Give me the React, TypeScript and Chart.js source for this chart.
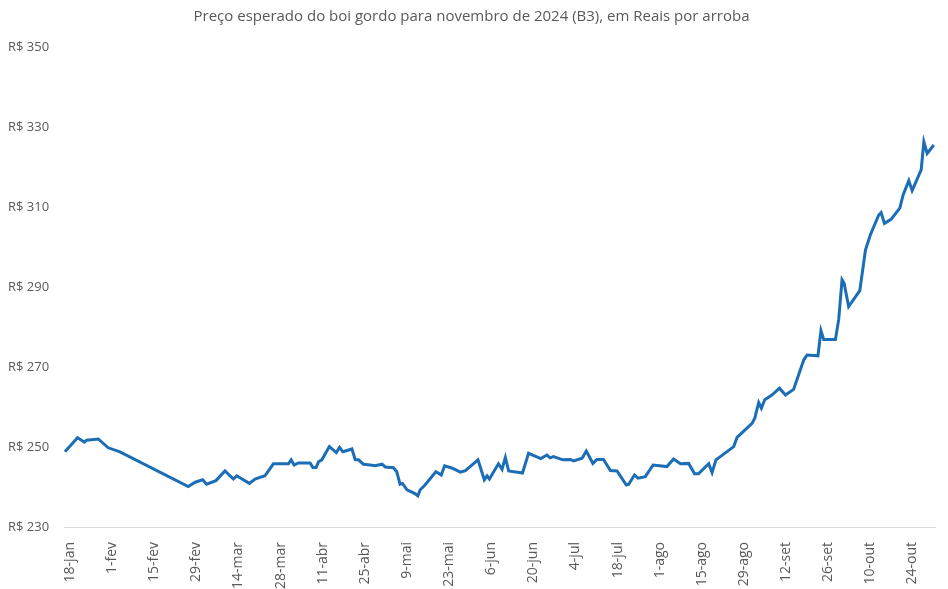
import React, { useEffect, useRef } from "react";
import { Chart, registerables } from "chart.js";

Chart.register(...registerables);

// x-axis tick labels (every 14 days starting 18-jan-2024)
const tickLabels = [
  "18-jan", "1-fev", "15-fev", "29-fev", "14-mar", "28-mar", "11-abr", "25-abr",
  "9-mai", "23-mai", "6-jun", "20-jun", "4-jul", "18-jul", "1-ago", "15-ago",
  "29-ago", "12-set", "26-set", "10-out", "24-out",
];
// day offset (since 16-jan-2024) of the first tick label
const firstTickDay = 2;
const tickStepDays = 14;

// days since 16-jan-2024
const dayOffsets = [
  0.3, 4.5, 6.8, 7.5, 11.4, 14.7, 18.6, 41.3, 43.6, 46.1, 47.4, 50.5,
  53.5, 56.3, 57.4, 61.6, 63.5, 66.8, 69.6, 74.6, 75.5, 76.5, 77.9, 81.8,
  82.7, 83.8, 84.6, 85.7, 88.2, 90.5, 91.6, 92.7, 95.7, 96.8, 97.9, 99.5,
  101.8, 103.4, 105.7, 106.8, 109.5, 110.6, 111.7, 112.5, 114, 116.5, 117.6, 118.4,
  120, 123.6, 125.4, 126.5, 129.1, 131.7, 133.4, 137.6, 139.7, 140.6, 141.4, 144.4,
  145.6, 146.7, 147.8, 152.4, 154.4, 158.5, 160.5, 161.6, 162.7, 165.8, 168.3, 169.4,
  172.2, 173.6, 175.8, 177.1, 179.3, 181.6, 183.8, 186.9, 187.7, 189.6, 190.8, 193.2,
  195.8, 200.4, 202.6, 204.9, 207.6, 209.6, 210.9, 214.3, 215.4, 216.7, 222.6, 223.7,
  225.4, 228.7, 229.6, 230.9, 231.8, 232.9, 235.3, 237.8, 239.8, 242.5, 245.9, 247,
  250.6, 251.6, 252.5, 256.4, 257.5, 258.6, 259.3, 260.8, 264.5, 266.4, 268, 270.8,
  271.6, 272.7, 274.9, 277.8, 278.9, 280.8, 281.9, 284.9, 285.8, 286.9, 289.1,
];

// expected price, R$ per arroba
const prices = [
  248.8, 252.3, 251.2, 251.7, 252.0, 249.8, 248.8, 240.1, 241.2, 241.8, 240.7, 241.6,
  244.0, 242.0, 242.8, 240.9, 242.0, 242.8, 245.8, 245.8, 246.8, 245.5, 246.0, 246.0,
  244.9, 244.9, 246.3, 246.8, 250.1, 248.6, 249.9, 248.8, 249.5, 246.8, 246.8, 245.7,
  245.5, 245.3, 245.7, 245.0, 244.8, 243.8, 240.7, 240.9, 239.3, 238.4, 237.8, 239.3,
  240.5, 243.8, 243.0, 245.3, 244.7, 243.7, 244.1, 246.8, 241.8, 242.8, 242.0, 245.8,
  244.4, 247.4, 244.0, 243.5, 248.4, 247.1, 248.0, 247.3, 247.6, 246.8, 246.9, 246.5,
  247.2, 249.0, 245.9, 246.9, 246.9, 244.1, 244.0, 240.5, 240.7, 243.0, 242.2, 242.6,
  245.5, 245.1, 247.0, 245.8, 245.9, 243.3, 243.3, 245.8, 243.6, 246.8, 250.1, 252.4,
  253.6, 255.9, 257.2, 261.1, 259.7, 261.8, 263.0, 264.7, 263.0, 264.4, 271.8, 273.0,
  272.8, 279.1, 276.9, 276.9, 281.9, 291.8, 290.9, 285.1, 289.1, 299.3, 303.0, 308.0,
  308.6, 305.9, 306.9, 309.7, 313.0, 316.6, 314.1, 319.3, 326.3, 323.4, 325.5,
];

const TEXT = "#595959";
const FONT = "'Open Sans', 'Liberation Sans', sans-serif";

export default function App() {
  const ref = useRef<HTMLCanvasElement | null>(null);

  useEffect(() => {
    document.body.style.margin = "0";
    const canvas = ref.current;
    if (!canvas) return;
    const points = dayOffsets.map((d, i) => ({ x: d, y: prices[i] }));
    const tickValue = (i: number) => firstTickDay + i * tickStepDays;
    const chart = new Chart(canvas, {
      type: "line",
      data: {
        datasets: [
          {
            data: points,
            borderColor: "#1b6db6",
            borderWidth: 3,
            pointRadius: 0,
            tension: 0,
            fill: false,
          },
        ],
      },
      options: {
        responsive: false,
        animation: false,
        layout: { padding: { left: 8, right: 13, top: 4, bottom: 0 } },
        plugins: {
          legend: { display: false },
          tooltip: { enabled: false },
          title: {
            display: true,
            text: "Preço esperado do boi gordo para novembro de 2024 (B3), em Reais por arroba",
            color: TEXT,
            font: { family: FONT, size: 15, weight: "normal" },
            padding: { top: 4, bottom: 21 },
          },
        },
        scales: {
          x: {
            type: "linear",
            min: 0,
            max: 289.5,
            grid: { display: false },
            border: { display: true, color: "#d9d9d9", width: 1 },
            afterBuildTicks: (scale: any) => {
              scale.ticks = tickLabels.map((_, i) => ({ value: tickValue(i) }));
            },
            afterFit: (scale: any) => {
              scale.height = 62;
            },
            ticks: {
              autoSkip: false,
              minRotation: 90,
              maxRotation: 90,
              color: TEXT,
              font: { family: FONT, size: 14 },
              padding: 7,
              callback: (v: any) =>
                tickLabels[Math.round((Number(v) - firstTickDay) / tickStepDays)] ?? "",
            },
          },
          y: {
            min: 230,
            max: 350,
            grid: { display: false },
            border: { display: false },
            afterFit: (scale: any) => {
              scale.width = 56;
            },
            ticks: {
              stepSize: 20,
              color: TEXT,
              font: { family: FONT, size: 13 },
              crossAlign: "far",
              padding: 8,
              callback: (v: any) => "R$ " + v,
            },
          },
        },
      },
    });
    return () => chart.destroy();
  }, []);

  return (
    <div style={{ position: "fixed", left: 0, top: 0, width: 948, height: 589, background: "#fff" }}>
      <canvas ref={ref} width={948} height={589} />
    </div>
  );
}
